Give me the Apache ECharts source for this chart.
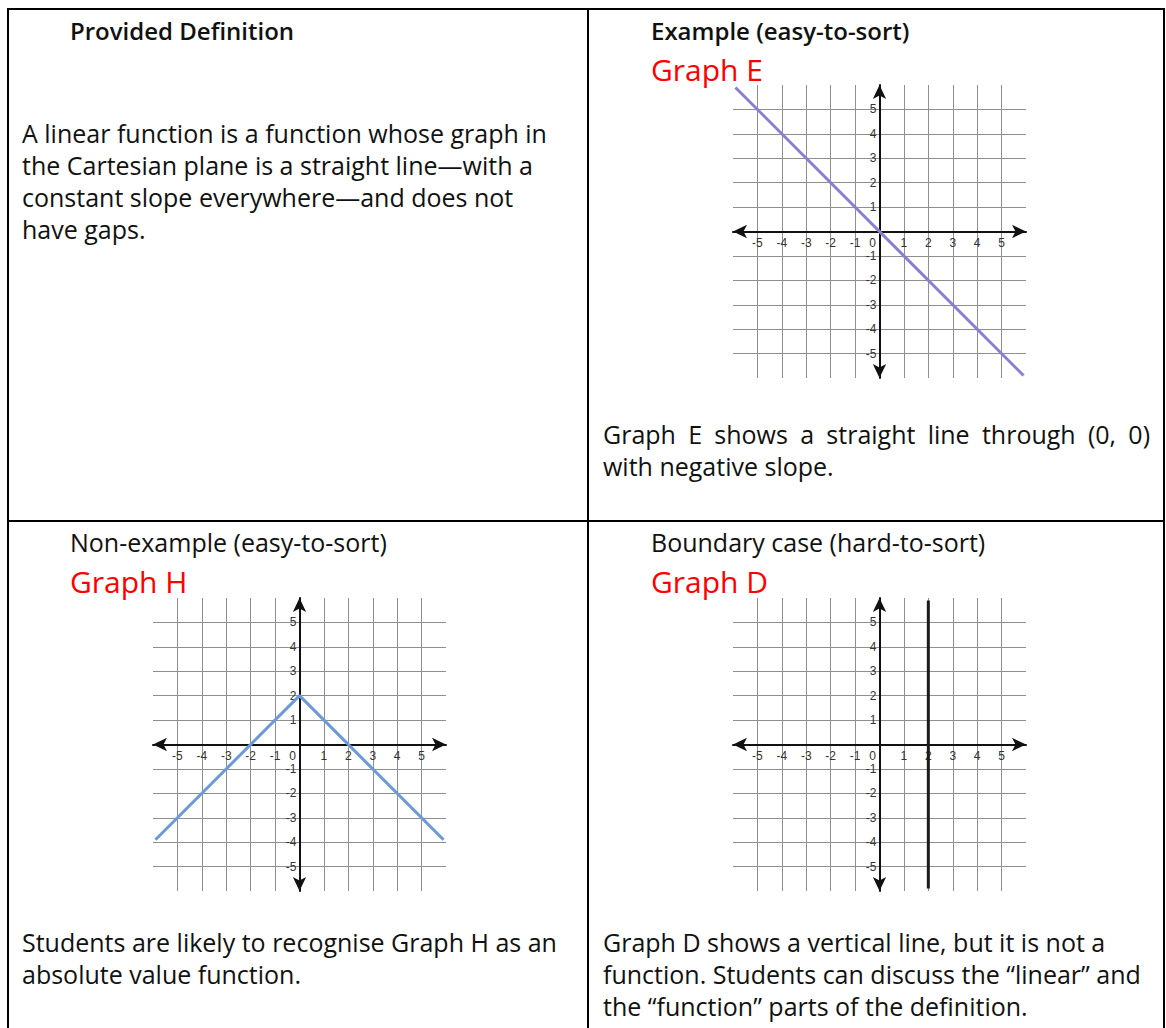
<!DOCTYPE html>
<html>
<head>
<meta charset="utf-8">
<script src="https://cdn.jsdelivr.net/npm/echarts@6/dist/echarts.min.js"></script>
<style>
  html, body { margin: 0; padding: 0; background: #fff; }
  #main { width: 1166px; height: 1028px; }
</style>
</head>
<body>
<div id="main"></div>
<script>
// axis values shared by the three graphs
const tickValues = [-5, -4, -3, -2, -1, 0, 1, 2, 3, 4, 5]
const yLabelValues = [-5, -4, -3, -2, -1, 1, 2, 3, 4, 5]
const axisMin = -6
const axisMax = 6

// Graph E: straight line through (0, 0), slope -1
const graphEPoints = [[-5.9, 5.9], [5.9, -5.9]]
// Graph H: absolute value shape, vertex at (0, 2)
const graphHPoints = [[-5.9, -3.9], [0, 2], [5.9, -3.9]]
// Graph D: vertical line x = 2
const graphDPoints = [[2, -5.9], [2, 5.9]]

// cell texts
const definitionLines = [
  'A linear function is a function whose graph in',
  'the Cartesian plane is a straight line\u2014with a',
  'constant slope everywhere\u2014and does not',
  'have gaps.'
]
const graphENoteLines = [
  'Graph E shows a straight line through (0, 0)',
  'with negative slope.'
]
const graphHNoteLines = [
  'Students are likely to recognise Graph H as an',
  'absolute value function.'
]
const graphDNoteLines = [
  'Graph D shows a vertical line, but it is not a',
  'function. Students can discuss the \u201clinear\u201d and',
  'the \u201cfunction\u201d parts of the definition.'
]

const FONT = "'Open Sans', 'Noto Sans', sans-serif"
const BODY_SIZE = 25
const LINE_GAP = 32
const PLOT = 293 // grid size in px, 12 units

const chart = echarts.init(document.getElementById('main'), null, { renderer: 'svg' })

function textEl (str, x, y, opt) {
  opt = opt || {}
  return {
    type: 'text',
    x: x,
    y: y,
    silent: true,
    style: {
      text: str,
      fill: opt.color || '#111',
      fontSize: opt.size || BODY_SIZE,
      fontWeight: opt.weight || 'normal',
      fontFamily: FONT,
      verticalAlign: 'middle',
      align: 'left'
    }
  }
}

function linesEl (lines, x, y0) {
  return lines.map((s, i) => textEl(s, x, y0 + i * LINE_GAP))
}

// spread the words of a line so it fills the given width (justified text)
const measureCtx = document.createElement('canvas').getContext('2d')
function justifiedLine (str, x0, x1, y) {
  measureCtx.font = BODY_SIZE + 'px ' + FONT
  const words = str.split(' ')
  const widths = words.map(w => measureCtx.measureText(w).width)
  const total = widths.reduce((a, b) => a + b, 0)
  const gap = (x1 - x0 - total) / (words.length - 1)
  let x = x0
  return words.map((w, i) => {
    const el = textEl(w, x, y)
    x += widths[i] + gap
    return el
  })
}

function borderLine (x1, y1, x2, y2) {
  return {
    type: 'line',
    silent: true,
    shape: { x1: x1, y1: y1, x2: x2, y2: y2 },
    style: { stroke: '#000', lineWidth: 2 }
  }
}

const axisLineStyle = {
  show: true,
  onZero: false,
  symbol: ['arrow', 'arrow'],
  symbolSize: [10, 14],
  lineStyle: { color: '#111', width: 2 }
}
const gridLineStyle = {
  show: true,
  showMinLine: false,
  showMaxLine: false,
  lineStyle: { color: '#8f8f8f', width: 1 }
}

function makeXAxis (idx) {
  return {
    type: 'value',
    gridIndex: idx,
    position: 'bottom',
    offset: -PLOT / 2, // pull the axis up to y = 0
    min: axisMin,
    max: axisMax,
    interval: 1,
    axisLine: axisLineStyle,
    axisTick: { show: false },
    axisLabel: {
      customValues: tickValues,
      margin: 5,
      fontSize: 12,
      color: '#333',
      fontFamily: 'Liberation Sans, Arial, sans-serif',
      formatter: v => (v === 0 ? '{z|0}' : String(v)),
      rich: { z: { padding: [0, 14, 0, 0], fontSize: 12, color: '#333' } }
    },
    splitLine: gridLineStyle
  }
}

function makeYAxis (idx) {
  return {
    type: 'value',
    gridIndex: idx,
    position: 'left',
    offset: -PLOT / 2, // pull the axis right to x = 0
    min: axisMin,
    max: axisMax,
    interval: 1,
    axisLine: axisLineStyle,
    axisTick: { show: false },
    axisLabel: {
      customValues: yLabelValues,
      margin: 3,
      fontSize: 12,
      color: '#333',
      fontFamily: 'Liberation Sans, Arial, sans-serif'
    },
    splitLine: gridLineStyle
  }
}

function lineSeries (idx, data, color) {
  return {
    type: 'line',
    xAxisIndex: idx,
    yAxisIndex: idx,
    data: data,
    symbol: 'none',
    silent: true,
    z: 5,
    lineStyle: { color: color, width: 3 }
  }
}

const graphics = [
  // table frame
  borderLine(8, 9, 1165, 9),
  borderLine(8, 8, 8, 1028),
  borderLine(588, 8, 588, 1028),
  borderLine(1164, 8, 1164, 1028),
  borderLine(8, 521, 1165, 521),
  // top-left cell
  textEl('Provided Definition', 70, 30, { weight: 600, size: 24 }),
  ...linesEl(definitionLines, 22, 133),
  // top-right cell
  textEl('Example (easy-to-sort)', 651, 30, { weight: 600, size: 24 }),
  textEl('Graph E', 651, 69, { color: '#ff0000', size: 30 }),
  ...justifiedLine(graphENoteLines[0], 603, 1150, 434),
  textEl(graphENoteLines[1], 603, 466),
  // bottom-left cell
  textEl('Non-example (easy-to-sort)', 70, 542),
  textEl('Graph H', 70, 581, { color: '#ff0000', size: 30 }),
  ...linesEl(graphHNoteLines, 22, 942),
  // bottom-right cell
  textEl('Boundary case (hard-to-sort)', 651, 542),
  textEl('Graph D', 651, 581, { color: '#ff0000', size: 30 }),
  ...linesEl(graphDNoteLines, 603, 942)
]

const option = {
  animation: false,
  backgroundColor: '#fff',
  grid: [
    { left: 733, top: 85, width: PLOT, height: PLOT },
    { left: 153, top: 598, width: PLOT, height: PLOT },
    { left: 733, top: 598, width: PLOT, height: PLOT }
  ],
  xAxis: [makeXAxis(0), makeXAxis(1), makeXAxis(2)],
  yAxis: [makeYAxis(0), makeYAxis(1), makeYAxis(2)],
  series: [
    lineSeries(0, graphEPoints, '#8680d2'),
    lineSeries(1, graphHPoints, '#6b9bd6'),
    lineSeries(2, graphDPoints, '#1a1a1a')
  ],
  graphic: graphics
}

chart.setOption(option)
</script>
</body>
</html>
